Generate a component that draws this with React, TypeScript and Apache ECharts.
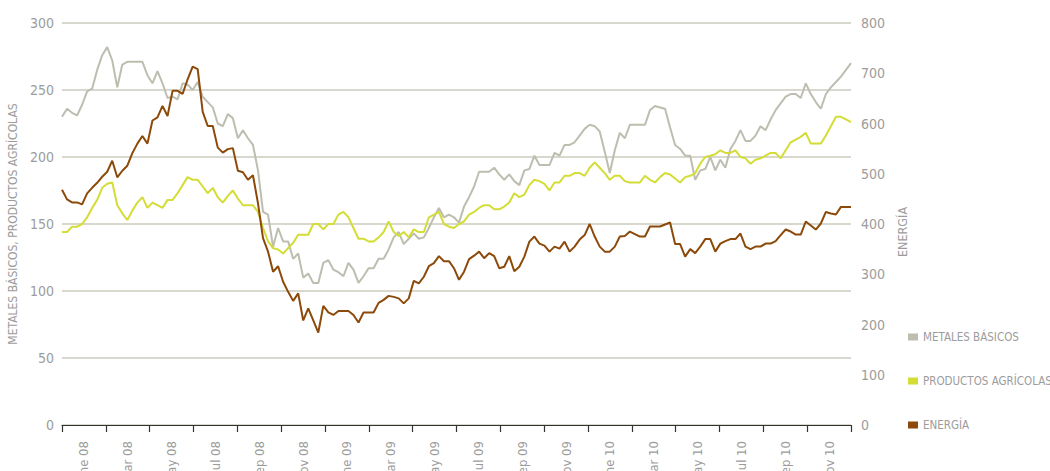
import React, { useEffect, useRef } from "react";
import * as echarts from "echarts";

const monthLabels = [
  "ene 08", "mar 08", "may 08", "jul 08", "sep 08", "nov 08",
  "ene 09", "mar 09", "may 09", "jul 09", "sep 09", "nov 09",
  "ene 10", "mar 10", "may 10", "jul 10", "sep 10", "nov 10",
];

// weekly values, Jan 2008 – Dec 2010
const metales = [
  230, 236, 233, 231, 239, 249, 251, 265, 276, 282, 272, 252, 269, 271, 271, 271, 271, 261, 255, 264,
  255, 244, 245, 243, 255, 254, 250, 256, 245, 241, 237, 225, 223, 232, 229, 214, 220, 214, 209, 190,
  159, 157, 133, 147, 137, 137, 124, 128, 110, 113, 106, 106, 121, 123, 116, 114, 111, 121, 116, 106,
  111, 117, 117, 124, 124, 131, 140, 144, 135, 139, 143, 139, 140, 147, 155, 162, 155, 157, 155, 151,
  163, 170, 178, 189, 189, 189, 192, 187, 183, 187, 182, 179, 190, 191, 201, 194, 194, 194, 203, 201,
  209, 209, 211, 216, 221, 224, 223, 219, 204, 188, 205, 218, 214, 224, 224, 224, 224, 235, 238, 237,
  236, 222, 209, 206, 201, 201, 183, 190, 191, 200, 190, 198, 192, 206, 212, 220, 212, 212, 216, 223,
  220, 228, 235, 240, 245, 247, 247, 244, 255, 247, 241, 236, 247, 252, 256, 260, 265, 270,
];

const agricolas = [
  144, 144, 148, 148, 150, 155, 162, 168, 177, 180, 181, 164, 158, 153, 160, 166, 170, 162, 166, 164,
  162, 168, 168, 173, 179, 185, 183, 183, 178, 173, 177, 170, 166, 171, 175, 169, 164, 164, 164, 159,
  147, 137, 132, 131, 128, 132, 136, 142, 142, 142, 150, 150, 146, 150, 150, 157, 159, 155, 147, 139,
  139, 137, 137, 140, 144, 152, 144, 141, 144, 140, 146, 144, 144, 155, 157, 159, 150, 148, 147, 150,
  152, 157, 159, 162, 164, 164, 161, 161, 163, 166, 173, 170, 172, 179, 183, 182, 180, 175, 181, 181,
  186, 186, 188, 188, 186, 192, 196, 192, 188, 183, 186, 186, 182, 181, 181, 181, 186, 183, 181, 185,
  188, 187, 184, 181, 185, 186, 188, 195, 200, 201, 202, 205, 203, 203, 205, 200, 199, 195, 198, 199,
  201, 203, 203, 199, 205, 211, 213, 215, 218, 210, 210, 210, 216, 223, 230, 230, 228, 226,
];

const energia = [
  468, 449, 443, 443, 439, 461, 472, 482, 494, 504, 526, 493, 506, 516, 541, 560, 575, 560, 606, 612,
  635, 615, 665, 665, 659, 688, 713, 708, 623, 595, 595, 552, 542, 549, 551, 506, 503, 488, 497, 441,
  372, 345, 305, 316, 285, 265, 247, 262, 208, 232, 208, 184, 237, 224, 219, 227, 227, 227, 219, 204,
  224, 224, 224, 243, 249, 257, 255, 252, 242, 252, 287, 282, 295, 316, 322, 336, 326, 326, 312, 289,
  305, 330, 337, 345, 332, 342, 336, 312, 315, 336, 306, 315, 335, 365, 375, 361, 357, 345, 355, 351,
  365, 345, 355, 369, 378, 400, 375, 355, 345, 345, 355, 375, 376, 385, 380, 375, 375, 395, 395, 395,
  399, 403, 360, 360, 335, 350, 342, 355, 370, 370, 345, 361, 366, 370, 370, 381, 355, 350, 355, 355,
  361, 361, 366, 378, 389, 385, 379, 379, 405, 397, 389, 401, 424, 421, 419, 434, 434, 434,
];

const leftTicks = { min: 0, max: 300, interval: 50 };
const rightTicks = { min: 0, max: 800, interval: 100 };

const FONT = "'DejaVu Sans Condensed', 'Liberation Sans Narrow', 'Roboto', sans-serif";
const TEXT = "#9c9c9c";

export default function App() {
  const ref = useRef<HTMLDivElement>(null);

  useEffect(() => {
    document.body.style.margin = "0";
    const chart = echarts.init(ref.current!, null, { renderer: "svg" });
    const toPairs = (arr: number[]) => arr.map((v, i) => [i, v]);
    chart.setOption({
      animation: false,
      textStyle: { fontFamily: FONT },
      grid: {
        left: 62,
        right: 199,
        top: 23,
        bottom: 46,
        containLabel: false,
        outerBoundsMode: "none",
      },
      legend: {
        orient: "vertical",
        left: 903,
        top: 326,
        itemWidth: 10,
        itemHeight: 7,
        itemGap: 32,
        icon: "rect",
        textStyle: { color: TEXT, fontSize: 11.5, fontFamily: FONT },
        data: ["METALES BÁSICOS", "PRODUCTOS AGRÍCOLAS", "ENERGÍA"],
      },
      xAxis: [
        {
          type: "category",
          data: monthLabels,
          boundaryGap: true,
          axisLine: { show: true, lineStyle: { color: "#333", width: 1.2 } },
          axisTick: { show: true, length: 7, lineStyle: { color: "#333", width: 1.2 } },
          axisLabel: { rotate: 90, color: TEXT, fontSize: 13, margin: 16, fontFamily: FONT },
          splitLine: { show: false },
        },
        {
          type: "value",
          min: 0,
          max: metales.length - 1,
          show: false,
        },
      ],
      yAxis: [
        {
          type: "value",
          ...leftTicks,
          position: "left",
          name: "METALES BÁSICOS, PRODUCTOS AGRÍCOLAS",
          nameLocation: "middle",
          nameGap: 34,
          nameTextStyle: { color: TEXT, fontSize: 12, fontFamily: FONT },
          axisLine: { show: false },
          axisTick: { show: false },
          axisLabel: { color: TEXT, fontSize: 14, margin: 8, fontFamily: FONT },
          splitLine: { show: true, lineStyle: { color: "#cbcbbf", width: 1.5 } },
        },
        {
          type: "value",
          ...rightTicks,
          position: "right",
          name: "ENERGÍA",
          nameLocation: "middle",
          nameGap: 30,
          nameTextStyle: { color: TEXT, fontSize: 12.5, fontFamily: FONT, padding: [0, 16, 0, 0] },
          axisLine: { show: false },
          axisTick: { show: false },
          axisLabel: { color: TEXT, fontSize: 14, margin: 10, fontFamily: FONT },
          splitLine: { show: false },
        },
      ],
      series: [
        {
          name: "METALES BÁSICOS",
          type: "line",
          xAxisIndex: 1,
          yAxisIndex: 0,
          data: toPairs(metales),
          showSymbol: false,
          lineStyle: { color: "#bdbdb0", width: 2 },
          itemStyle: { color: "#bdbdb0" },
          z: 3,
        },
        {
          name: "PRODUCTOS AGRÍCOLAS",
          type: "line",
          xAxisIndex: 1,
          yAxisIndex: 0,
          data: toPairs(agricolas),
          showSymbol: false,
          lineStyle: { color: "#d4dc36", width: 2 },
          itemStyle: { color: "#d4dc36" },
          z: 4,
        },
        {
          name: "ENERGÍA",
          type: "line",
          xAxisIndex: 1,
          yAxisIndex: 1,
          data: toPairs(energia),
          showSymbol: false,
          lineStyle: { color: "#8c4a0a", width: 2 },
          itemStyle: { color: "#8c4a0a" },
          z: 5,
        },
      ],
    });
    return () => chart.dispose();
  }, []);

  return (
    <div
      ref={ref}
      style={{ position: "absolute", left: 0, top: 0, width: 1050, height: 471 }}
    />
  );
}
